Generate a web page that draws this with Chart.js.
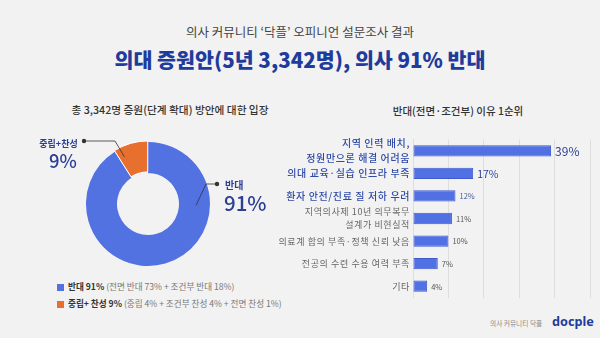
<!DOCTYPE html>
<html><head><meta charset="utf-8">
<script src="https://cdn.jsdelivr.net/npm/chart.js@4/dist/chart.umd.min.js"></script>
<style>
html,body{margin:0;padding:0;}
body{width:600px;height:338px;background:#f2f2f2;position:relative;overflow:hidden;font-family:"Noto Sans CJK KR","Noto Sans",sans-serif;}
.t{position:absolute;white-space:nowrap;line-height:1;}
canvas{position:absolute;}
.lg{position:absolute;left:57px;font-size:8.6px;color:#777;white-space:nowrap;line-height:1;}
.lg b{color:#333;font-weight:700;}
.sq{display:inline-block;width:7px;height:7px;margin-right:4px;vertical-align:-0.5px;}
</style></head>
<body>
<div class="t" id="t1" style="left:0;width:600px;text-align:center;top:26px;font-size:12.5px;color:#444;"></div>
<div class="t" id="t2" style="left:0;width:600px;text-align:center;top:49px;font-size:20.6px;font-weight:900;color:#1f3b9c;"></div>
<div class="t" id="s1" style="left:70px;width:200px;text-align:center;top:105px;font-size:10.7px;font-weight:500;color:#333;"></div>
<div class="t" id="s2" style="left:358px;width:200px;text-align:center;top:106px;font-size:10.5px;font-weight:500;color:#333;"></div>
<div class="lg" id="lg0" style="top:282px;"></div>
<div class="lg" id="lg1" style="top:299px;"></div>
<div class="t" style="left:490px;top:320px;font-size:6.7px;color:#888;">의사 커뮤니티 닥플</div>
<div class="t" style="left:552px;top:315px;font-size:12.7px;font-weight:700;color:#1f3c9e;font-family:'Noto Sans',sans-serif;">docple</div>
<canvas id="pie" width="300" height="150" style="left:0;top:130px;"></canvas>
<canvas id="bar" width="340" height="185" style="left:260px;top:130px;"></canvas>
<script>
// ---- data ----
const title1 = "의사 커뮤니티 ‘닥플’ 오피니언 설문조사 결과";
const title2 = "의대 증원안(5년 3,342명), 의사 91% 반대";
const pieTitle = "총 3,342명 증원(단계 확대) 방안에 대한 입장";
const barTitle = "반대(전면·조건부) 이유 1순위";

const pieLabels = ["반대", "중립+찬성"];
const pieValues = [91, 9];
const legendHeads = ["반대 91%", "중립+ 찬성 9%"];
const legendDetails = ["(전면 반대 73% + 조건부 반대 18%)", "(중립 4% + 조건부 찬성 4% + 전면 찬성 1%)"];

const reasonLabels = [
  ["지역 인력 배치,", "정원만으론 해결 어려움"],
  "의대 교육·실습 인프라 부족",
  "환자 안전/진료 질 저하 우려",
  ["지역의사제 10년 의무복무", "설계가 비현실적"],
  "의료계 합의 부족·정책 신뢰 낮음",
  "전공의 수련 수용 여력 부족",
  "기타"
];
const reasonValues = [39, 17, 12, 11, 10, 7, 4];
const xTicks = [0, 10, 20, 30, 40, 50];

// ---- text ----
document.getElementById('t1').textContent = title1;
document.getElementById('t2').textContent = title2;
document.getElementById('s1').textContent = pieTitle;
document.getElementById('s2').textContent = barTitle;

const BLUE = '#5272e2', ORANGE = '#e8702f', LBL = '#2b3f94';
const pieColors = [BLUE, ORANGE];
legendHeads.forEach((h, i) => {
  const el = document.getElementById('lg' + i);
  el.innerHTML = '<span class="sq" style="background:' + pieColors[i] + '"></span><b></b> <span></span>';
  el.querySelector('b').textContent = h;
  el.querySelectorAll('span')[1].textContent = legendDetails[i];
});

const FAM = '"Noto Sans CJK KR","Noto Sans",sans-serif';

// ---- doughnut ----
const pieCallouts = [
  { frac: 0.28, rad: 0.55, elbow: [206, 54], dot: [217, 54],
    lines: [{ text: pieLabels[0], x: 225, y: 55, size: 10, weight: 700, align: 'left' },
            { text: pieValues[0] + '%', x: 224, y: 73, size: 20.5, weight: 500, align: 'left' }] },
  { frac: 0.18, rad: 0.7, elbow: [115, 11], dot: [84, 11],
    lines: [{ text: pieLabels[1], x: 58.5, y: 14, size: 9, weight: 700, align: 'center' },
            { text: pieValues[1] + '%', x: 63, y: 31, size: 18.5, weight: 500, align: 'center' }] }
];
const calloutPlugin = {
  id: 'callouts',
  afterDraw(chart) {
    const ctx = chart.ctx;
    const arcs = chart.getDatasetMeta(0).data;
    ctx.save();
    arcs.forEach((arc, i) => {
      const c = pieCallouts[i];
      const p = arc.getProps(['x', 'y', 'startAngle', 'endAngle', 'innerRadius', 'outerRadius'], true);
      const a = p.startAngle + c.frac * (p.endAngle - p.startAngle);
      const r = p.innerRadius + c.rad * (p.outerRadius - p.innerRadius);
      const ax = p.x + Math.cos(a) * r, ay = p.y + Math.sin(a) * r;
      ctx.strokeStyle = '#333';
      ctx.lineWidth = 0.8;
      ctx.beginPath();
      ctx.moveTo(ax, ay);
      ctx.lineTo(c.elbow[0], c.elbow[1]);
      ctx.lineTo(c.dot[0], c.dot[1]);
      ctx.stroke();
      ctx.fillStyle = '#333';
      ctx.beginPath();
      ctx.arc(c.dot[0], c.dot[1], 2.2, 0, Math.PI * 2);
      ctx.fill();
      c.lines.forEach(l => {
        ctx.fillStyle = LBL;
        ctx.font = l.weight + ' ' + l.size + 'px ' + FAM;
        ctx.textAlign = l.align;
        ctx.textBaseline = 'middle';
        ctx.fillText(l.text, l.x, l.y);
      });
    });
    ctx.restore();
  }
};
new Chart(document.getElementById('pie'), {
  type: 'doughnut',
  data: { labels: pieLabels, datasets: [{ data: pieValues, backgroundColor: pieColors,
    borderColor: '#ffffff', borderWidth: [0, 1], offset: [0, 3] }] },
  options: {
    responsive: false, animation: false, cutout: '50%',
    layout: { padding: { left: 84, right: 88, top: 10, bottom: 12 } },
    plugins: { legend: { display: false }, tooltip: { enabled: false } }
  },
  plugins: [calloutPlugin]
});

// ---- bar ----
const valueStyles = [
  { size: 12, weight: 400, color: LBL },
  { size: 10.5, weight: 400, color: LBL },
  { size: 7.5, weight: 400, color: '#4a5a9a' },
  { size: 7.5, weight: 400, color: '#555' },
  { size: 7.5, weight: 400, color: '#555' },
  { size: 7.5, weight: 400, color: '#555' },
  { size: 7.5, weight: 400, color: '#555' }
];
const spacingPlugin = {
  id: 'tickSpacing',
  beforeDraw(chart) { if ('letterSpacing' in chart.ctx) chart.ctx.letterSpacing = '0.6px'; },
  beforeDatasetsDraw(chart) { if ('letterSpacing' in chart.ctx) chart.ctx.letterSpacing = '0px'; }
};
const valuePlugin = {
  id: 'values',
  afterDatasetsDraw(chart) {
    const ctx = chart.ctx;
    ctx.save();
    chart.getDatasetMeta(0).data.forEach((bar, i) => {
      const s = valueStyles[i];
      ctx.font = s.weight + ' ' + s.size + 'px ' + FAM;
      ctx.fillStyle = s.color;
      ctx.textAlign = 'left';
      ctx.textBaseline = 'middle';
      ctx.fillText(reasonValues[i] + '%', bar.x + 4, bar.y + 0.5);
    });
    ctx.restore();
  }
};
new Chart(document.getElementById('bar'), {
  type: 'bar',
  data: { labels: reasonLabels, datasets: [{ data: reasonValues, backgroundColor: '#5170e4',
    borderColor: '#3f5ad0', borderWidth: 1, borderSkipped: false,
    barPercentage: 0.5, categoryPercentage: 1 }] },
  options: {
    indexAxis: 'y', responsive: false, animation: false,
    layout: { padding: { left: 0, right: 10, top: 7, bottom: 7 } },
    plugins: { legend: { display: false }, tooltip: { enabled: false } },
    scales: {
      x: {
        min: 0, max: 50,
        afterBuildTicks(scale) { scale.ticks = xTicks.map(v => ({ value: v })); },
        ticks: { display: false },
        grid: { color: '#dedede', lineWidth: 1, drawTicks: false },
        border: { display: false },
        afterFit(scale) { scale.height = 0; }
      },
      y: {
        grid: { display: false, drawTicks: false },
        border: { display: true, color: '#dedede' },
        ticks: {
          autoSkip: false,
          padding: 3,
          color: (c) => c.index < 3 ? '#2f4aa8' : '#666',
          font: (c) => ({ family: FAM, size: c.index < 3 ? 10 : 9, weight: c.index < 3 ? 500 : 400, lineHeight: 1.45 })
        },
        afterFit(scale) { scale.width = 153; }
      }
    }
  },
  plugins: [spacingPlugin, valuePlugin]
});
</script>
</body></html>
